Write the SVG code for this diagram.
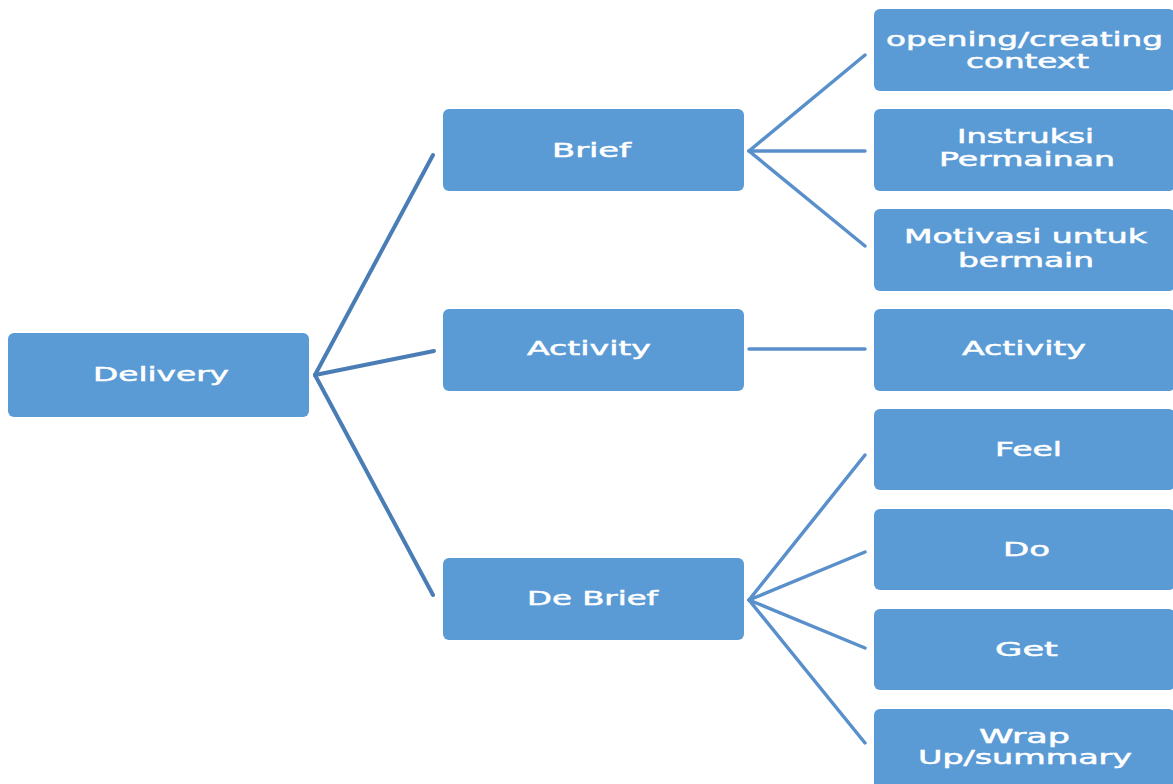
<svg xmlns="http://www.w3.org/2000/svg" width="1173" height="784" viewBox="0 0 1173 784">
<style>
.box{fill:#5b9bd5}
.t{font-family:"DejaVu Sans",Verdana,sans-serif;font-size:19px;fill:#ffffff;stroke:#ffffff;stroke-width:0.5;text-anchor:middle}
.c1{stroke:#4a7db5;stroke-width:4;fill:none;stroke-linecap:round}
.c2{stroke:#5990cb;stroke-width:3.5;fill:none;stroke-linecap:round}
</style>
<rect width="1173" height="784" fill="#ffffff"/>
<g id="connectors">
<path class="c1" d="M315 375 L433 155"/>
<path class="c1" d="M315 375 L434 351"/>
<path class="c1" d="M315 375 L433 595"/>
<path class="c2" d="M749 151 L865 55"/>
<path class="c2" d="M749 151 L865 151"/>
<path class="c2" d="M749 151 L865 246"/>
<path class="c2" d="M749 349 L865 349"/>
<path class="c2" d="M749 600 L865 455"/>
<path class="c2" d="M749 600 L865 552"/>
<path class="c2" d="M749 600 L865 648"/>
<path class="c2" d="M749 600 L865 743"/>
</g>
<g id="n-delivery"><rect class="box" x="8" y="333" width="301" height="84" rx="6"/><text class="t" x="161" y="381" textLength="136" lengthAdjust="spacingAndGlyphs">Delivery</text></g>
<g id="n-brief"><rect class="box" x="443" y="109" width="301" height="82" rx="6"/><text class="t" x="591.5" y="157" textLength="79" lengthAdjust="spacingAndGlyphs">Brief</text></g>
<g id="n-activity"><rect class="box" x="443" y="309" width="301" height="82" rx="6"/><text class="t" x="589" y="355" textLength="124" lengthAdjust="spacingAndGlyphs">Activity</text></g>
<g id="n-debrief"><rect class="box" x="443" y="558" width="301" height="82" rx="6"/><text class="t" x="592.5" y="605" textLength="131" lengthAdjust="spacingAndGlyphs">De Brief</text></g>
<g id="n-opening"><rect class="box" x="874" y="9" width="301" height="82" rx="6"/><text class="t" x="1024.5" y="46" textLength="277" lengthAdjust="spacingAndGlyphs">opening/creating</text><text class="t" x="1027.5" y="68" textLength="123" lengthAdjust="spacingAndGlyphs">context</text></g>
<g id="n-instruksi"><rect class="box" x="874" y="109" width="301" height="82" rx="6"/><text class="t" x="1025.5" y="143" textLength="137" lengthAdjust="spacingAndGlyphs">Instruksi</text><text class="t" x="1027" y="166" textLength="176" lengthAdjust="spacingAndGlyphs">Permainan</text></g>
<g id="n-motivasi"><rect class="box" x="874" y="209" width="301" height="82" rx="6"/><text class="t" x="1025.5" y="243" textLength="243" lengthAdjust="spacingAndGlyphs">Motivasi untuk</text><text class="t" x="1026" y="267" textLength="136" lengthAdjust="spacingAndGlyphs">bermain</text></g>
<g id="n-activity2"><rect class="box" x="874" y="309" width="301" height="82" rx="6"/><text class="t" x="1024" y="355" textLength="124" lengthAdjust="spacingAndGlyphs">Activity</text></g>
<g id="n-feel"><rect class="box" x="874" y="409" width="301" height="81" rx="6"/><text class="t" x="1028.5" y="456" textLength="67" lengthAdjust="spacingAndGlyphs">Feel</text></g>
<g id="n-do"><rect class="box" x="874" y="509" width="301" height="81" rx="6"/><text class="t" x="1026.5" y="556" textLength="47" lengthAdjust="spacingAndGlyphs">Do</text></g>
<g id="n-get"><rect class="box" x="874" y="609" width="301" height="81" rx="6"/><text class="t" x="1026.5" y="656" textLength="63" lengthAdjust="spacingAndGlyphs">Get</text></g>
<g id="n-wrap"><rect class="box" x="874" y="709" width="301" height="82" rx="6"/><text class="t" x="1024.5" y="743" textLength="91" lengthAdjust="spacingAndGlyphs">Wrap</text><text class="t" x="1025" y="764" textLength="214" lengthAdjust="spacingAndGlyphs">Up/summary</text></g>
</svg>
